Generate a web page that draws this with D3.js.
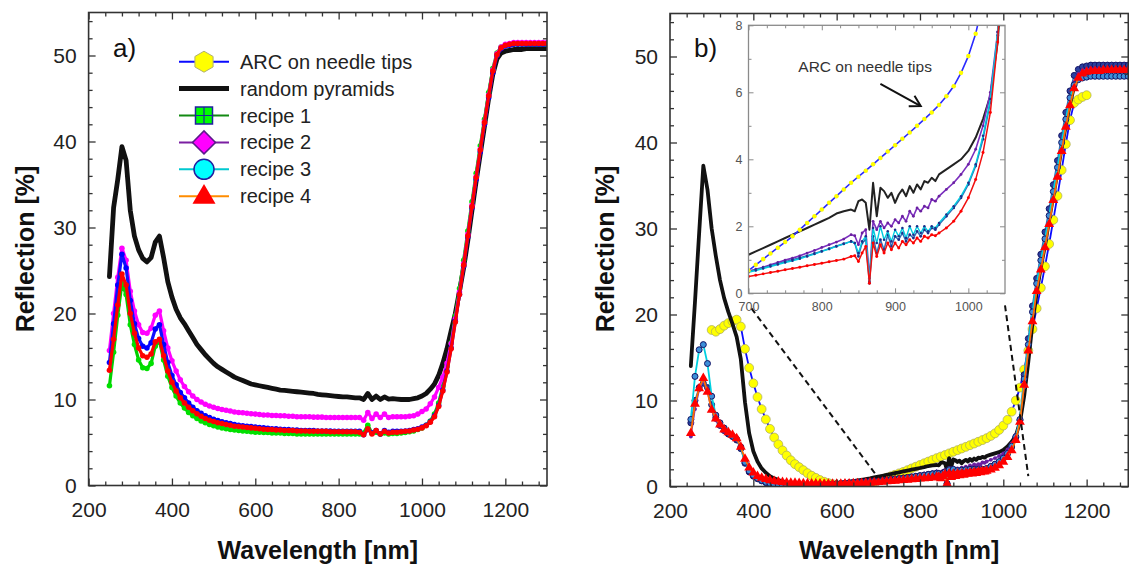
<!DOCTYPE html>
<html><head><meta charset="utf-8">
<script src="https://cdn.jsdelivr.net/npm/d3@7"></script>
<style>body{margin:0;background:#fff;} svg{display:block;}</style>
</head><body><svg id="chart" width="1129" height="570"></svg>
<script>
// ---------------- DATA ----------------
const wlA = [250,260,270,280,290,300,310,320,330,340,
350,360,370,380,390,400,410,420,430,440,
450,460,470,480,490,500,510,520,530,540,
550,560,570,580,590,600,610,620,630,640,
650,660,670,680,690,700,710,720,730,740,
750,760,770,780,790,800,810,820,830,840,
850,860,870,880,890,900,910,920,930,940,
950,960,970,980,990,1000,1010,1020,1030,1040,
1050,1060,1070,1080,1090,1100,1110,1120,1130,1140,
1150,1160,1170,1180,1190,1200,1210,1220,1230,1240,
1250,1260,1270,1280,1290,1300];
const pyramidsA = [24.3,32.3,35.6,39.4,37.8,32.0,29.0,27.4,26.4,26.0,
26.5,28.3,29.0,26.5,23.7,21.9,20.5,19.5,18.8,18.0,
17.2,16.4,15.8,15.2,14.7,14.2,13.8,13.5,13.2,12.9,
12.6,12.4,12.2,12.0,11.8,11.7,11.6,11.5,11.4,11.3,
11.2,11.1,11.05,11.0,10.95,10.9,10.85,10.8,10.75,10.7,
10.6,10.55,10.5,10.45,10.4,10.35,10.3,10.3,10.25,10.2,
10.2,10.0,10.7,10.0,10.4,10.0,10.3,10.05,10.1,10.05,
10.0,10.0,10.0,10.1,10.2,10.4,10.7,11.2,11.8,12.8,
14.2,15.9,18.0,20.0,22.6,25.3,28.5,32.0,35.4,38.6,
41.8,45.0,47.8,49.6,50.3,50.5,50.6,50.7,50.7,50.7,
50.8,50.8,50.8,50.8,50.8,50.8];
const recipe1A = [11.6,15.5,19.8,23.5,22.2,18.7,16.4,14.6,13.7,13.6,
14.2,16.2,16.8,14.6,12.7,11.4,10.4,9.6,9.0,8.5,
8.1,7.8,7.5,7.3,7.1,6.95,6.8,6.7,6.6,6.5,
6.45,6.4,6.35,6.3,6.25,6.2,6.2,6.15,6.15,6.1,
6.1,6.1,6.05,6.05,6.05,6.0,6.0,6.0,6.0,6.0,
6.0,6.0,6.0,6.0,6.0,6.0,6.0,6.0,6.0,6.0,
6.0,6.1,7.0,6.1,6.2,6.0,6.1,6.0,6.05,6.05,
6.1,6.15,6.25,6.35,6.5,6.7,7.0,7.5,8.3,9.6,
11.5,13.8,16.6,19.7,22.9,26.2,29.6,33.0,36.3,39.5,
42.6,45.7,48.5,50.3,51.0,51.2,51.3,51.3,51.3,51.3,
51.3,51.3,51.3,51.3,51.3,51.3];
const recipe2A = [15.7,20.0,24.2,27.6,26.2,22.6,20.3,18.7,17.8,17.7,
18.3,19.8,20.3,18.0,16.0,14.5,13.3,12.3,11.5,10.9,
10.4,10.0,9.7,9.45,9.25,9.1,8.95,8.85,8.75,8.65,
8.55,8.5,8.45,8.4,8.35,8.3,8.25,8.2,8.2,8.15,
8.15,8.1,8.1,8.05,8.05,8.0,8.0,8.0,8.0,7.95,
7.95,7.95,7.9,7.9,7.9,7.9,7.9,7.9,7.9,7.9,
7.9,7.6,8.5,7.8,8.3,7.9,8.3,7.9,8.0,8.0,
8.0,8.0,8.05,8.1,8.3,8.6,8.9,9.5,10.3,11.4,
12.6,14.2,16.5,19.4,22.5,25.8,29.2,32.6,35.9,39.1,
42.3,45.4,48.3,50.2,51.0,51.3,51.4,51.5,51.5,51.5,
51.5,51.5,51.5,51.5,51.5,51.5];
const recipe3A = [14.3,18.8,23.3,26.9,25.3,21.5,18.8,17.1,16.2,16.0,
16.6,18.2,18.7,16.4,14.3,12.8,11.7,10.8,10.2,9.6,
9.1,8.7,8.4,8.1,7.9,7.7,7.55,7.4,7.3,7.2,
7.1,7.0,6.95,6.9,6.85,6.8,6.75,6.7,6.65,6.6,
6.6,6.55,6.5,6.5,6.45,6.45,6.4,6.4,6.4,6.4,
6.35,6.35,6.35,6.35,6.3,6.3,6.3,6.3,6.3,6.3,
6.3,5.9,6.5,6.1,6.4,6.0,6.4,6.2,6.3,6.3,
6.3,6.35,6.4,6.5,6.6,6.8,7.0,7.4,8.1,9.3,
11.1,13.3,16.0,19.1,22.2,25.5,28.9,32.3,35.6,38.8,
42.0,45.1,48.0,50.0,50.8,51.1,51.2,51.3,51.3,51.3,
51.3,51.3,51.3,51.3,51.3,51.3];
const recipe4A = [13.4,17.0,21.0,24.6,23.3,20.0,17.7,16.0,15.1,14.9,
15.3,16.7,17.0,15.1,13.3,12.0,11.0,10.2,9.6,9.1,
8.7,8.35,8.05,7.8,7.6,7.45,7.3,7.2,7.1,7.0,
6.9,6.85,6.8,6.75,6.7,6.65,6.6,6.55,6.5,6.5,
6.45,6.45,6.4,6.4,6.4,6.35,6.35,6.35,6.3,6.3,
6.3,6.3,6.3,6.25,6.25,6.25,6.25,6.25,6.25,6.25,
6.2,5.9,6.6,6.0,6.4,6.0,6.3,6.1,6.2,6.2,
6.25,6.3,6.35,6.45,6.55,6.7,6.95,7.35,8.0,9.2,
11.0,13.2,15.9,19.0,22.2,25.6,29.0,32.4,35.8,39.0,
42.2,45.3,48.2,50.1,50.9,51.2,51.3,51.4,51.4,51.4,
51.4,51.4,51.4,51.4,51.4,51.4];

const wlB = [250,260,270,280,290,300,310,320,330,340,
350,360,370,380,390,400,410,420,430,440,
450,460,470,480,490,500,510,520,530,540,
550,560,570,580,590,600,610,620,630,640,
650,660,670,680,690,700,710,720,730,740,
750,760,770,780,790,800,810,820,830,
840,845,850,855,860,865,870,875,880,885,890,895,900,905,910,915,920,925,930,935,940,945,950,955,960,
970,980,990,1000,1010,1020,1030,1040,1050,1060,
1070,1080,1090,1100,1110,1120,1130,1140,1150,1160,
1170,1180,1190,1200,1210,1220,1230,1240,1250,1260,
1270,1280,1290,1300];
const pyramidsB = [14.0,21.5,29.5,37.3,34.5,30.0,26.8,24.0,21.9,20.3,
18.9,17.4,14.8,9.8,6.2,4.1,2.9,2.1,1.6,1.2,
0.95,0.75,0.6,0.48,0.38,0.32,0.28,0.25,0.23,0.22,
0.22,0.23,0.25,0.28,0.32,0.36,0.42,0.48,0.55,0.62,
0.7,0.78,0.87,0.95,1.05,1.15,1.25,1.35,1.45,1.55,
1.65,1.75,1.85,1.95,2.05,2.15,2.25,2.38,2.45,
2.5,2.45,2.75,2.8,2.7,1.9,3.3,2.3,3.15,3.05,2.85,3.0,2.7,2.95,3.1,2.9,3.2,3.0,3.25,3.1,3.35,3.3,3.45,3.35,3.55,
3.7,3.85,4.0,4.25,4.65,5.2,5.9,7.5,10.5,14.5,
19.0,22.5,25.5,28.0,31.0,33.8,36.5,39.3,42.0,44.5,
46.5,47.6,48.0,48.1,48.2,48.2,48.3,48.3,48.3,48.3,
48.3,48.3,48.3,48.3];
const recipe1B = [7.4,10.0,11.5,12.0,11.5,9.5,8.0,7.1,6.5,6.1,
5.8,5.4,4.4,2.7,1.7,1.2,0.9,0.65,0.45,0.3,
0.2,0.14,0.1,0.07,0.05,0.05,0.05,0.06,0.08,0.1,
0.13,0.16,0.19,0.23,0.27,0.31,0.35,0.39,0.43,0.47,
0.5,0.53,0.56,0.59,0.62,0.65,0.7,0.76,0.82,0.88,
0.94,1.0,1.06,1.12,1.19,1.26,1.33,1.41,1.48,
1.55,1.5,1.1,1.5,1.6,0.3,1.7,1.2,1.6,1.3,1.75,1.4,1.7,1.6,1.8,1.55,1.75,1.65,1.85,1.7,1.9,1.8,1.95,1.9,2.05,
2.3,2.55,2.85,3.25,3.8,4.6,5.7,7.7,13.0,17.2,
21.0,24.2,27.0,29.6,32.3,35.1,37.9,40.8,43.5,46.0,
47.8,48.5,48.8,48.9,49.0,49.0,49.0,49.0,49.0,49.0,
49.0,49.0,49.0,49.0];
const recipe2B = [5.8,9.0,11.2,12.4,11.0,8.8,7.7,7.0,6.4,6.1,
5.8,5.4,4.5,3.0,2.0,1.4,1.05,0.8,0.6,0.45,
0.35,0.28,0.22,0.18,0.15,0.14,0.14,0.15,0.16,0.18,
0.2,0.22,0.25,0.28,0.31,0.35,0.39,0.43,0.47,0.51,
0.54,0.57,0.6,0.62,0.64,0.66,0.72,0.78,0.85,0.92,
0.99,1.05,1.12,1.2,1.28,1.37,1.45,1.53,1.62,
1.75,1.72,1.45,1.8,1.9,0.45,2.15,1.9,2.15,1.95,2.1,2.0,2.2,2.1,2.3,2.15,2.45,2.3,2.55,2.45,2.6,2.55,2.8,2.75,2.9,
3.1,3.3,3.55,3.85,4.3,5.0,6.0,7.8,11.5,15.8,
19.5,23.0,25.8,28.4,31.1,33.9,36.7,39.6,42.4,45.0,
47.0,48.0,48.4,48.5,48.6,48.6,48.6,48.6,48.6,48.6,
48.6,48.6,48.6,48.6];
const recipe3B = [7.8,12.8,15.9,16.5,14.3,10.5,8.3,7.4,6.8,6.2,
5.85,5.5,4.6,2.8,1.8,1.3,0.95,0.7,0.5,0.35,
0.25,0.18,0.12,0.08,0.06,0.05,0.05,0.06,0.08,0.1,
0.12,0.15,0.18,0.22,0.26,0.3,0.34,0.38,0.42,0.46,
0.5,0.53,0.56,0.59,0.61,0.63,0.68,0.74,0.8,0.86,
0.92,0.97,1.03,1.1,1.17,1.25,1.32,1.4,1.47,
1.55,1.5,1.2,1.55,1.7,0.35,1.95,1.5,2.0,1.6,1.85,1.55,1.9,1.7,1.95,1.65,2.0,1.75,2.0,1.8,2.0,1.85,2.0,1.95,2.1,
2.35,2.6,2.9,3.3,3.85,4.7,5.8,7.8,12.5,16.5,
20.3,23.6,26.3,28.8,31.5,34.3,37.1,40.0,42.7,45.2,
46.7,47.3,47.5,47.6,47.7,47.7,47.7,47.7,47.7,47.7,
47.7,47.7,47.7,47.7];
const recipe4B = [6.2,9.6,11.4,12.6,11.0,8.9,7.9,7.2,6.6,6.3,
6.0,5.6,4.6,3.2,2.2,1.6,1.2,1.0,0.85,0.72,
0.62,0.55,0.5,0.45,0.42,0.4,0.38,0.36,0.35,0.34,
0.33,0.32,0.31,0.3,0.3,0.3,0.31,0.32,0.33,0.35,
0.37,0.39,0.41,0.43,0.46,0.5,0.54,0.58,0.62,0.66,
0.7,0.74,0.78,0.82,0.86,0.9,0.94,0.98,1.02,
1.1,1.12,0.95,1.2,1.4,0.3,1.5,1.1,1.45,1.2,1.5,1.3,1.5,1.35,1.55,1.45,1.6,1.5,1.65,1.55,1.7,1.65,1.75,1.72,1.8,
1.95,2.15,2.45,2.85,3.4,4.2,5.4,7.5,11.8,15.8,
19.2,22.7,25.2,27.8,30.5,33.3,36.0,39.0,41.8,44.3,
46.3,47.5,48.0,48.2,48.3,48.3,48.3,48.4,48.4,48.4,
48.4,48.4,48.4,48.4];
const wlArc = [300,310,320,330,340,350,360,370,380,390,
400,410,420,430,440,450,460,470,480,490,
500,510,520,530,540,550,560,570,580,590,
600,610,620,630,640,650,660,670,680,690,
700,710,720,730,740,750,760,770,780,790,
800,810,820,830,840,850,860,870,880,890,
900,910,920,930,940,950,960,970,980,990,
1000,1010,1020,1030,1040,1050,1060,1070,1080,1090,
1100,1110,1120,1130,1140,1150,1160,1170,1180,1190,
1200];
const arcB = [18.2,18.0,18.3,18.7,19.0,19.2,19.4,18.6,16.0,13.8,
12.0,10.4,9.0,7.8,6.7,5.7,4.9,4.2,3.6,3.05,
2.6,2.25,1.9,1.55,1.25,1.0,0.75,0.55,0.4,0.28,
0.15,0.08,0.05,0.05,0.08,0.12,0.2,0.3,0.42,0.55,
0.68,0.85,1.02,1.19,1.36,1.53,1.7,1.9,2.1,2.3,
2.5,2.7,2.9,3.1,3.3,3.48,3.66,3.85,4.04,4.23,
4.42,4.61,4.8,5.0,5.2,5.4,5.62,5.88,6.18,6.58,
7.08,7.75,8.7,10.0,11.5,13.6,15.8,18.3,20.7,23.1,
25.6,28.2,31.0,33.8,36.8,39.8,42.6,44.6,45.0,45.3,
45.5];

const xTicks = [200,400,600,800,1000,1200];
const yTicks = [0,10,20,30,40,50];
const insetXTicks = [700,800,900,1000];
const insetYTicks = [0,2,4,6,8];
const legendLabels = ["ARC on needle tips","random pyramids","recipe 1","recipe 2","recipe 3","recipe 4"];
const xTitle = "Wavelength [nm]";
const yTitle = "Reflection [%]";
const insetNote = "ARC on needle tips";

// ---------------- DRAWING ----------------
const FONT = "'Liberation Sans', Arial, Helvetica, sans-serif";
const svg = d3.select("#chart").attr("font-family", FONT);
svg.append("rect").attr("width",1129).attr("height",570).attr("fill","#fff");

const xA = d3.scaleLinear().domain([200,1300]).range([88.6,547]);
const yA = d3.scaleLinear().domain([0,55]).range([485.5,12.5]);
const xB = d3.scaleLinear().domain([200,1300]).range([670,1128.3]);
const yB = d3.scaleLinear().domain([0,55]).range([486.5,13.5]);
const xI = d3.scaleLinear().domain([700,1050]).range([748.5,1005]);
const yI = d3.scaleLinear().domain([0,8]).range([293.3,25.3]);

const defs = svg.append("defs");
function clip(id, x, y){
  const [x0,x1]=x.range(), [y0,y1]=y.range();
  defs.append("clipPath").attr("id",id).append("rect")
    .attr("x",x0).attr("y",y1).attr("width",x1-x0).attr("height",y0-y1);
}
clip("clipA",xA,yA); clip("clipB",xB,yB); clip("clipI",xI,yI);

function axes(g, x, y, o){
  const [x0,x1]=x.range(), [y0,y1]=y.range();
  const mk = (fn, sc, vals, size, lab, pad, tr) => {
    const ax = fn(sc).tickValues(vals).tickSizeInner(-size).tickSizeOuter(0).tickPadding(pad);
    ax.tickFormat(lab ? d3.format("d") : "");
    const a = g.append("g").attr("transform",tr).call(ax);
    a.select(".domain").remove();
    a.selectAll(".tick line").attr("stroke",o.col).attr("stroke-width",o.tw);
    a.selectAll(".tick text").attr("fill",o.tcol).attr("font-size",o.fs).attr("font-family",FONT);
  };
  mk(d3.axisBottom,x,o.xMaj,o.maj,true,o.xpad,`translate(0,${y0})`);
  mk(d3.axisBottom,x,o.xMin,o.min,false,0,`translate(0,${y0})`);
  mk(d3.axisTop,x,o.xMaj,o.maj,false,0,`translate(0,${y1})`);
  mk(d3.axisTop,x,o.xMin,o.min,false,0,`translate(0,${y1})`);
  mk(d3.axisLeft,y,o.yMaj,o.maj,true,o.ypad,`translate(${x0},0)`);
  mk(d3.axisLeft,y,o.yMin,o.min,false,0,`translate(${x0},0)`);
  mk(d3.axisRight,y,o.yMaj,o.maj,false,0,`translate(${x1},0)`);
  mk(d3.axisRight,y,o.yMin,o.min,false,0,`translate(${x1},0)`);
  g.append("rect").attr("x",x0).attr("y",y1).attr("width",x1-x0).attr("height",y0-y1)
    .attr("fill","none").attr("stroke",o.col).attr("stroke-width",o.fw);
}

function series(g, x, y, wl, vals, o){
  let pts = wl.map((w,i)=>[w, vals[i]]);
  if(o.range) pts = pts.filter(d=>d[0]>=o.range[0]-15 && d[0]<=o.range[1]+15);
  const line = d3.line().x(d=>x(d[0])).y(d=>y(d[1]));
  if(o.lw) g.append("path").attr("d",line(pts)).attr("fill","none")
    .attr("stroke",o.lc).attr("stroke-width",o.lw).attr("stroke-linejoin","round").attr("stroke-linecap","round");
  if(o.sym){
    const s = d3.symbol().type(o.sym).size(o.size);
    g.append("g").selectAll("path").data(pts).join("path")
      .attr("transform",d=>`translate(${x(d[0])},${y(d[1])})`)
      .attr("d",s).attr("fill",o.fill).attr("stroke",o.stroke||"none").attr("stroke-width",o.sw||0);
  }
}

const mainTickOpts = {xMaj:xTicks, xMin:d3.range(240,1300,40).filter(v=>v%200!==0),
  yMaj:yTicks, yMin:d3.range(2,55,2).filter(v=>v%10!==0),
  maj:7, min:4, col:"#333", tcol:"#222", tw:1.3, fw:1.6, fs:21, xpad:17, ypad:12};

// ---------- Panel a ----------
const gA = svg.append("g");
const dA = gA.append("g").attr("clip-path","url(#clipA)");
series(dA,xA,yA,wlA,pyramidsA,{lw:4.8,lc:"#111"});
series(dA,xA,yA,wlA,recipe1A,{lw:3.2,lc:"#00d000",sym:d3.symbolCircle,size:24,fill:"#00e000"});
series(dA,xA,yA,wlA,recipe2A,{lw:3.2,lc:"#ff00ff",sym:d3.symbolCircle,size:24,fill:"#ff00ff"});
series(dA,xA,yA,wlA,recipe3A,{lw:3.2,lc:"#1010ff",sym:d3.symbolCircle,size:24,fill:"#0000ff"});
series(dA,xA,yA,wlA,recipe4A,{lw:3.2,lc:"#ff0000",sym:d3.symbolCircle,size:24,fill:"#ff0000"});
axes(gA,xA,yA,mainTickOpts);

// ---------- Panel b ----------
const gB = svg.append("g");
const dB = gB.append("g").attr("clip-path","url(#clipB)");
series(dB,xB,yB,wlArc,arcB,{lw:1.8,lc:"#0a0aff",sym:d3.symbolCircle,size:62,fill:"#ffff00",stroke:"#a8a860",sw:0.7});
series(dB,xB,yB,wlB,pyramidsB,{lw:3.8,lc:"#111"});
series(dB,xB,yB,wlB,recipe1B,{lw:1.5,lc:"#2f6fb8",sym:d3.symbolCircle,size:28,fill:"#2a3f9e",stroke:"#141466",sw:1});
series(dB,xB,yB,wlB,recipe2B,{lw:1.5,lc:"#7b2fbe",sym:d3.symbolCircle,size:12,fill:"#6a1fa0"});
series(dB,xB,yB,wlB,recipe3B,{lw:1.8,lc:"#00d0e0",sym:d3.symbolCircle,size:28,fill:"#3c8fd8",stroke:"#141466",sw:1});
series(dB,xB,yB,wlB,recipe4B,{lw:1.8,lc:"#ff6a00",sym:d3.symbolTriangle,size:42,fill:"#ff0000"});
axes(gB,xB,yB,mainTickOpts);

// dashed connector lines
gB.append("line").attr("x1",xI(704)).attr("y1",yI(0)+15).attr("x2",xB(700)).attr("y2",yB(1.0))
  .attr("stroke","#111").attr("stroke-width",2).attr("stroke-dasharray","6,4");
gB.append("line").attr("x1",xI(1050)).attr("y1",yI(0)+12).attr("x2",xB(1060)).attr("y2",yB(1.2))
  .attr("stroke","#111").attr("stroke-width",2).attr("stroke-dasharray","6,4");

// ---------- Inset ----------
const gI = svg.append("g");
gI.append("rect").attr("x",xI.range()[0]).attr("y",yI.range()[1])
  .attr("width",xI.range()[1]-xI.range()[0]).attr("height",yI.range()[0]-yI.range()[1]).attr("fill","#fff");
const dI = gI.append("g").attr("clip-path","url(#clipI)");
const R = [700,1050];
series(dI,xI,yI,wlB,pyramidsB,{lw:2,lc:"#222",range:R});
series(dI,xI,yI,wlB,recipe2B,{lw:1.6,lc:"#7b2fbe",sym:d3.symbolCircle,size:6,fill:"#6a1fa0",range:R});
series(dI,xI,yI,wlB,recipe1B,{lw:1.5,lc:"#2f6fb8",sym:d3.symbolCircle,size:6,fill:"#1c2f8a",range:R});
series(dI,xI,yI,wlB,recipe3B,{lw:1.4,lc:"#00cce0",sym:d3.symbolCircle,size:5,fill:"#1c2f8a",range:R});
series(dI,xI,yI,wlB,recipe4B,{lw:1.5,lc:"#f01010",sym:d3.symbolCircle,size:7,fill:"#ff0000",range:R});
series(dI,xI,yI,wlArc,arcB,{lw:1.6,lc:"#2a2aff",sym:d3.symbolCircle,size:16,fill:"#ffff00",range:R});
axes(gI,xI,yI,{xMaj:insetXTicks, xMin:d3.range(725,1050,25).filter(v=>v%100!==0),
  yMaj:insetYTicks, yMin:[1,3,5,7], maj:5, min:3, col:"#8a8a8a", tcol:"#555", tw:1, fw:1.3, fs:12.5, xpad:9, ypad:6});

gI.append("text").attr("x",xI(768)).attr("y",yI(6.62)).attr("font-size",15.5).attr("fill","#333").text(insetNote);
const ax1 = xI(880), ay1 = yI(6.25), ax2 = xI(935), ay2 = yI(5.59);
gI.append("line").attr("x1",ax1).attr("y1",ay1).attr("x2",ax2).attr("y2",ay2).attr("stroke","#111").attr("stroke-width",2);
{
  const dx=ax2-ax1, dy=ay2-ay1, L=Math.hypot(dx,dy), ux=-dx/L, uy=-dy/L, a=Math.PI/6, len=12;
  const r=(t)=>[ux*Math.cos(t)-uy*Math.sin(t), ux*Math.sin(t)+uy*Math.cos(t)];
  const p1=r(a), p2=r(-a);
  gI.append("path").attr("d",`M${ax2+p1[0]*len},${ay2+p1[1]*len}L${ax2},${ay2}L${ax2+p2[0]*len},${ay2+p2[1]*len}`)
    .attr("fill","none").attr("stroke","#111").attr("stroke-width",2);
}

// ---------- Titles ----------
[[xA,gA,34],[xB,gB,614]].forEach(([x,g,ylx])=>{
  const [x0,x1]=x.range();
  g.append("text").attr("x",(x0+x1)/2).attr("y",559).attr("text-anchor","middle")
    .attr("font-size",25).attr("font-weight","bold").attr("fill","#111").text(xTitle);
  g.append("text").attr("transform",`translate(${ylx},249) rotate(-90)`).attr("text-anchor","middle")
    .attr("font-size",25).attr("font-weight","bold").attr("fill","#111").text(yTitle);
});
gA.append("text").attr("x",113).attr("y",57).attr("font-size",26).attr("fill","#111").text("a)");
gB.append("text").attr("x",694).attr("y",57).attr("font-size",26).attr("fill","#111").text("b)");

// ---------- Legend (panel a) ----------
const lg = gA.append("g");
const lx0=179, lx1=229, lxc=204, ly0=61.7, ldy=26.9;
const legStyles = [
  {lc:"#0a0aff",lw:2,shape:"hex",fill:"#ffff00",stroke:"#b0b070"},
  {lc:"#111",lw:5,shape:null},
  {lc:"#138a13",lw:2,shape:"sq",fill:"#00ff00",stroke:"#2020a0"},
  {lc:"#7b1fa2",lw:2,shape:"dia",fill:"#ff00ff",stroke:"#5a1a8a"},
  {lc:"#00c8d0",lw:2,shape:"circ",fill:"#00ffff",stroke:"#2020a0"},
  {lc:"#ff8c00",lw:2,shape:"tri",fill:"#ff0000",stroke:"none"}
];
legendLabels.forEach((lab,i)=>{
  const y = ly0 + i*ldy, s = legStyles[i];
  lg.append("line").attr("x1",lx0).attr("x2",lx1).attr("y1",y).attr("y2",y).attr("stroke",s.lc).attr("stroke-width",s.lw);
  const m = lg.append("g").attr("transform",`translate(${lxc},${y})`);
  if(s.shape==="hex"){
    const pts = d3.range(6).map(k=>{const t=Math.PI/3*k - Math.PI/2; return [10.5*Math.cos(t), 10.5*Math.sin(t)];});
    m.append("polygon").attr("points",pts.map(p=>p.join(",")).join(" ")).attr("fill",s.fill).attr("stroke",s.stroke).attr("stroke-width",1);
  } else if(s.shape==="sq"){
    m.append("rect").attr("x",-8.5).attr("y",-8.5).attr("width",17).attr("height",17).attr("fill",s.fill).attr("stroke",s.stroke).attr("stroke-width",1.5);
    m.append("path").attr("d","M0,-8.5V8.5M-8.5,0H8.5").attr("stroke",s.stroke).attr("stroke-width",1.2);
  } else if(s.shape==="dia"){
    m.append("path").attr("d",d3.symbol().type(d3.symbolSquare).size(265)).attr("transform","rotate(45)")
      .attr("fill",s.fill).attr("stroke",s.stroke).attr("stroke-width",1.5);
  } else if(s.shape==="circ"){
    m.append("circle").attr("r",10).attr("fill",s.fill).attr("stroke",s.stroke).attr("stroke-width",1.5);
  } else if(s.shape==="tri"){
    m.append("path").attr("d",d3.symbol().type(d3.symbolTriangle).size(230)).attr("transform","translate(0,1)").attr("fill",s.fill);
  }
  lg.append("text").attr("x",240).attr("y",y+7).attr("font-size",20).attr("fill","#222").text(lab);
});
</script>
</body></html>
